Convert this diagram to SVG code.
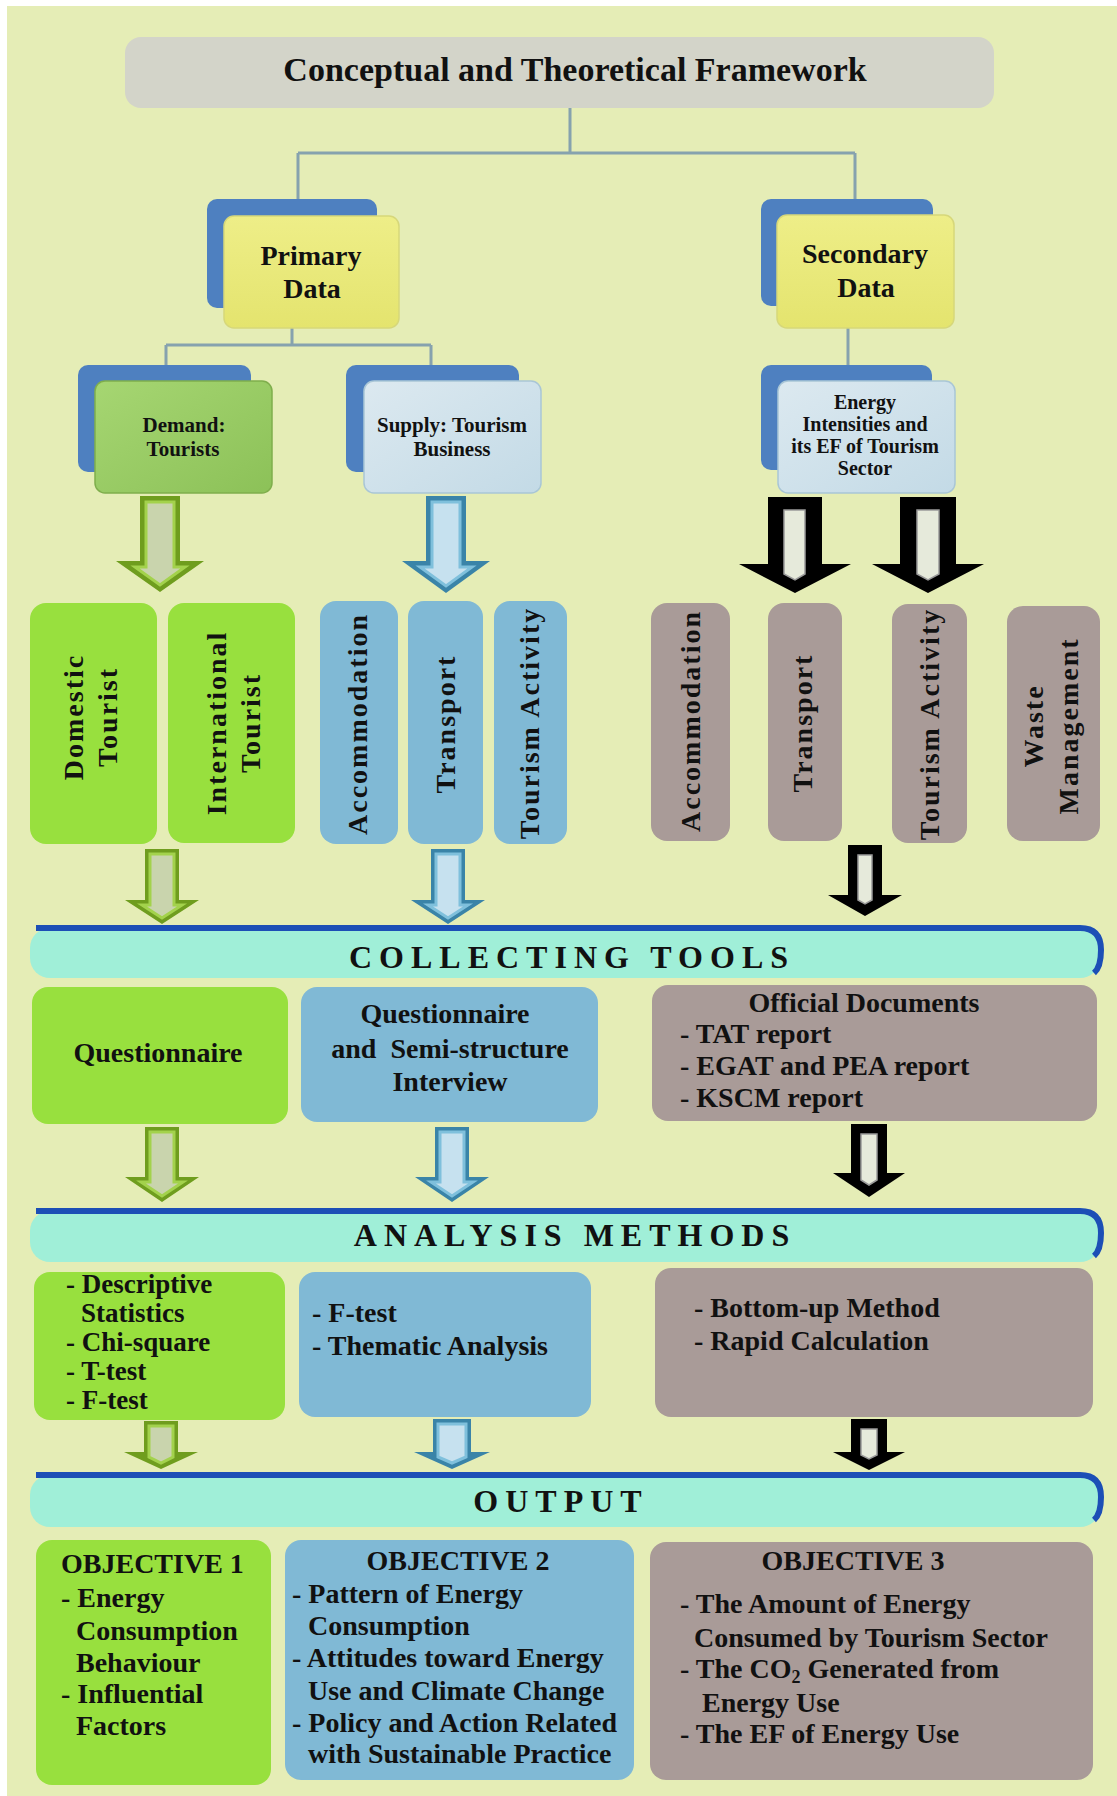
<svg xmlns="http://www.w3.org/2000/svg" width="1117" height="1796" viewBox="0 0 1117 1796">
  <defs>
    <linearGradient id="gYellow" x1="0" y1="0" x2="0" y2="1">
      <stop offset="0" stop-color="#eeee88"/>
      <stop offset="1" stop-color="#e4e46e"/>
    </linearGradient>
    <linearGradient id="gDemand" x1="0" y1="0" x2="1" y2="1">
      <stop offset="0" stop-color="#a6d672"/>
      <stop offset="1" stop-color="#8cc158"/>
    </linearGradient>
    <linearGradient id="gPale" x1="0" y1="0" x2="1" y2="1">
      <stop offset="0" stop-color="#dce9f0"/>
      <stop offset="1" stop-color="#c3dae6"/>
    </linearGradient>
    <style>
      .t { font-family: "Liberation Serif", "Times New Roman", serif; font-weight: bold; fill: #111; }
      .title { font-size: 34px; }
      .big { font-size: 28px; }
      .mid { font-size: 21px; }
      .small { font-size: 20px; }
      .body { font-size: 28px; }
      .body27 { font-size: 27px; }
      .vert { font-size: 28px; letter-spacing: 2px; }
      .band { font-size: 32px; letter-spacing: 7px; }
      .c { text-anchor: middle; }
      .back { fill: #4e80c0; }
      .green { fill: #98e03e; }
      .blue { fill: #80b9d5; }
      .mauve { fill: #a99b98; }
      .bandfill { fill: #a0efd8; }
      .bandline { fill: none; stroke: #1c4fb6; stroke-width: 6; }
      .link { fill: none; stroke: #86a2ae; stroke-width: 3; }
      .aGreenOut { fill: #6f9d1e; }
      .aGreenIn { fill: #c9d4ad; stroke: #a3d24c; stroke-width: 3; }
      .aBlueOut { fill: #3a84a8; }
      .aBlueIn { fill: #c6e1ef; stroke: #7fc0dc; stroke-width: 3; }
      .aBlackOut { fill: #000; }
      .aBlackIn { fill: #e6eadb; stroke: #9a9a9a; stroke-width: 1.5; }
    </style>
  </defs>

  <!-- page -->
  <rect x="0" y="0" width="1117" height="1796" fill="#ffffff"/>
  <rect x="7" y="6" width="1110" height="1790" fill="#e5edb6"/>

  <!-- connectors -->
  <g id="connectors">
    <path class="link" d="M570,108 V153 M298,153 H855 M298,153 V199 M855,153 V199"/>
    <path class="link" d="M292,328 V345 M166,345 H431 M166,345 V365 M431,345 V365"/>
    <path class="link" d="M848,328 V365"/>

    <!-- block arrows: demand / supply / secondary to categories -->
    <polygon class="aGreenOut" points="140,496 180,496 180,561 204,561 160,592 116,561 140,561"/>
    <polygon class="aGreenIn" points="146,502 174,502 174,567 185,567 160,585 135,567 146,567"/>
    <polygon class="aBlueOut" points="426,496 466,496 466,561 490,561 446,593 402,561 426,561"/>
    <polygon class="aBlueIn" points="432,502 460,502 460,567 472,567 446,586 420,567 432,567"/>
    <polygon class="aBlackOut" points="768,497 822,497 822,564 851,564 795,593 739,564 768,564"/>
    <polygon class="aBlackIn" points="784,510 805,510 805,574 795,580 784,574"/>
    <polygon class="aBlackOut" points="900,497 956,497 956,564 984,564 928,593 872,564 900,564"/>
    <polygon class="aBlackIn" points="917,510 939,510 939,574 928,580 917,574"/>

    <!-- categories to collecting tools -->
    <polygon class="aGreenOut" points="145,849 179,849 179,900 199,900 162,924 125,900 145,900"/>
    <polygon class="aGreenIn" points="150,854 174,854 174,905 182,905 162,918 142,905 150,905"/>
    <polygon class="aBlueOut" points="431,849 465,849 465,900 485,900 448,924 411,900 431,900"/>
    <polygon class="aBlueIn" points="436,854 460,854 460,905 468,905 448,918 428,905 436,905"/>
    <polygon class="aBlackOut" points="848,845 882,845 882,895 902,895 865,916 828,895 848,895"/>
    <polygon class="aBlackIn" points="858,855 872,855 872,900 865,904 858,900"/>

    <!-- collecting tools to analysis methods -->
    <polygon class="aGreenOut" points="145,1127 179,1127 179,1177 199,1177 162,1202 125,1177 145,1177"/>
    <polygon class="aGreenIn" points="150,1132 174,1132 174,1182 183,1182 162,1196 141,1182 150,1182"/>
    <polygon class="aBlueOut" points="435,1127 469,1127 469,1177 489,1177 452,1202 415,1177 435,1177"/>
    <polygon class="aBlueIn" points="440,1132 464,1132 464,1182 473,1182 452,1196 431,1182 440,1182"/>
    <polygon class="aBlackOut" points="851,1124 887,1124 887,1173 905,1173 869,1197 833,1173 851,1173"/>
    <polygon class="aBlackIn" points="861,1134 877,1134 877,1180 869,1185 861,1180"/>

    <!-- analysis methods to output -->
    <polygon class="aGreenOut" points="144,1421 178,1421 178,1452 198,1452 161,1469 124,1452 144,1452"/>
    <polygon class="aGreenIn" points="149,1426 173,1426 173,1457 161,1463 149,1457"/>
    <polygon class="aBlueOut" points="433,1419 471,1419 471,1452 490,1452 452,1469 414,1452 433,1452"/>
    <polygon class="aBlueIn" points="438,1424 466,1424 466,1457 452,1463 438,1457"/>
    <polygon class="aBlackOut" points="851,1419 887,1419 887,1452 905,1452 869,1470 833,1452 851,1452"/>
    <polygon class="aBlackIn" points="861,1429 877,1429 877,1455 869,1459 861,1455"/>
  </g>

  <!-- title -->
  <g id="title">
    <rect x="125" y="37" width="869" height="71" rx="16" fill="#d3d4c9"/>
    <text class="t title c" x="575" y="81">Conceptual and Theoretical Framework</text>
  </g>

  <!-- data sources -->
  <g id="primary-data">
    <rect class="back" x="207" y="199" width="170" height="109" rx="10"/>
    <rect x="224" y="216" width="175" height="112" rx="10" fill="url(#gYellow)" stroke="#d6d77a" stroke-width="1.5"/>
    <text class="t big c" x="311" y="265">Primary</text>
    <text class="t big c" x="312" y="298">Data</text>
  </g>
  <g id="secondary-data">
    <rect class="back" x="761" y="199" width="172" height="107" rx="10"/>
    <rect x="777" y="215" width="177" height="113" rx="10" fill="url(#gYellow)" stroke="#d6d77a" stroke-width="1.5"/>
    <text class="t big c" x="865" y="263">Secondary</text>
    <text class="t big c" x="866" y="297">Data</text>
  </g>
  <g id="demand">
    <rect class="back" x="78" y="365" width="173" height="107" rx="10"/>
    <rect x="95" y="381" width="177" height="112" rx="10" fill="url(#gDemand)" stroke="#7fae4c" stroke-width="1.5"/>
    <text class="t mid c" x="184" y="432" fill="#1c2a12">Demand:</text>
    <text class="t mid c" x="183" y="456" fill="#1c2a12">Tourists</text>
  </g>
  <g id="supply">
    <rect class="back" x="346" y="365" width="173" height="107" rx="10"/>
    <rect x="364" y="381" width="177" height="112" rx="10" fill="url(#gPale)" stroke="#a9c6d6" stroke-width="1.5"/>
    <text class="t mid c" x="452" y="432">Supply: Tourism</text>
    <text class="t mid c" x="452" y="456">Business</text>
  </g>
  <g id="energy-intensities">
    <rect class="back" x="761" y="365" width="171" height="105" rx="10"/>
    <rect x="778" y="381" width="177" height="112" rx="10" fill="url(#gPale)" stroke="#a9c6d6" stroke-width="1.5"/>
    <text class="t small c" x="865" y="409">Energy</text>
    <text class="t small c" x="865" y="431">Intensities and</text>
    <text class="t small c" x="865" y="453">its EF of Tourism</text>
    <text class="t small c" x="865" y="475">Sector</text>
  </g>

  <!-- demand categories -->
  <g id="domestic-tourist">
    <rect class="green" x="30" y="603" width="127" height="241" rx="16"/>
    <text class="t vert c" transform="translate(73,717) rotate(-90)" y="10">Domestic</text>
    <text class="t vert c" transform="translate(107,717) rotate(-90)" y="10">Tourist</text>
  </g>
  <g id="international-tourist">
    <rect class="green" x="168" y="603" width="127" height="240" rx="16"/>
    <text class="t vert c" transform="translate(216,723) rotate(-90)" y="10">International</text>
    <text class="t vert c" transform="translate(250,723) rotate(-90)" y="10">Tourist</text>
  </g>

  <!-- supply categories -->
  <g id="supply-accommodation">
    <rect class="blue" x="320" y="601" width="78" height="243" rx="16"/>
    <text class="t vert c" transform="translate(357,724) rotate(-90)" y="10">Accommodation</text>
  </g>
  <g id="supply-transport">
    <rect class="blue" x="408" y="601" width="75" height="243" rx="16"/>
    <text class="t vert c" transform="translate(445,724) rotate(-90)" y="10">Transport</text>
  </g>
  <g id="supply-tourism-activity">
    <rect class="blue" x="494" y="601" width="73" height="243" rx="16"/>
    <text class="t vert c" transform="translate(529,723) rotate(-90)" y="10">Tourism Activity</text>
  </g>

  <!-- secondary categories -->
  <g id="sector-accommodation">
    <rect class="mauve" x="651" y="603" width="79" height="238" rx="16"/>
    <text class="t vert c" transform="translate(690,721) rotate(-90)" y="10">Accommodation</text>
  </g>
  <g id="sector-transport">
    <rect class="mauve" x="768" y="603" width="74" height="238" rx="16"/>
    <text class="t vert c" transform="translate(802,723) rotate(-90)" y="10">Transport</text>
  </g>
  <g id="sector-tourism-activity">
    <rect class="mauve" x="892" y="604" width="75" height="239" rx="16"/>
    <text class="t vert c" transform="translate(929,724) rotate(-90)" y="10">Tourism Activity</text>
  </g>
  <g id="sector-waste">
    <rect class="mauve" x="1007" y="606" width="93" height="235" rx="16"/>
    <text class="t vert c" transform="translate(1033,726) rotate(-90)" y="10">Waste</text>
    <text class="t vert c" transform="translate(1068,726) rotate(-90)" y="10">Management</text>
  </g>

  <!-- collecting tools -->
  <g id="collecting-tools">
    <rect class="bandfill" x="30" y="928" width="1070" height="50" rx="20"/>
    <path class="bandline" d="M36,928 H1080 Q1101,928 1101,950 Q1101,967 1094,973"/>
    <text class="t band c" x="572" y="968">COLLECTING TOOLS</text>
  </g>
  <g id="collect-questionnaire">
    <rect class="green" x="32" y="987" width="256" height="137" rx="16"/>
    <text class="t body c" x="158" y="1062">Questionnaire</text>
  </g>
  <g id="collect-interview">
    <rect class="blue" x="301" y="987" width="297" height="135" rx="16"/>
    <text class="t body c" x="445" y="1023">Questionnaire</text>
    <text class="t body c" x="450" y="1058">and &#160;Semi-structure</text>
    <text class="t body c" x="450" y="1091">Interview</text>
  </g>
  <g id="collect-documents">
    <rect class="mauve" x="652" y="985" width="445" height="136" rx="16"/>
    <text class="t body c" x="864" y="1012">Official Documents</text>
    <text class="t body" x="680" y="1043">- TAT report</text>
    <text class="t body" x="680" y="1075">- EGAT and PEA report</text>
    <text class="t body" x="680" y="1107">- KSCM report</text>
  </g>

  <!-- analysis methods -->
  <g id="analysis-methods">
    <rect class="bandfill" x="30" y="1211" width="1070" height="51" rx="20"/>
    <path class="bandline" d="M36,1211 H1080 Q1101,1211 1101,1233 Q1101,1250 1094,1256"/>
    <text class="t band c" x="575" y="1246">ANALYSIS METHODS</text>
  </g>
  <g id="analysis-statistics">
    <rect class="green" x="34" y="1272" width="251" height="148" rx="16"/>
    <text class="t body27" x="66" y="1293">- Descriptive</text>
    <text class="t body27" x="81" y="1322">Statistics</text>
    <text class="t body27" x="66" y="1351">- Chi-square</text>
    <text class="t body27" x="66" y="1380">- T-test</text>
    <text class="t body27" x="66" y="1409">- F-test</text>
  </g>
  <g id="analysis-thematic">
    <rect class="blue" x="299" y="1272" width="292" height="145" rx="16"/>
    <text class="t body" x="312" y="1322">- F-test</text>
    <text class="t body" x="312" y="1355">- Thematic Analysis</text>
  </g>
  <g id="analysis-calculation">
    <rect class="mauve" x="655" y="1268" width="438" height="149" rx="16"/>
    <text class="t body" x="694" y="1317">- Bottom-up Method</text>
    <text class="t body" x="694" y="1350">- Rapid Calculation</text>
  </g>

  <!-- output -->
  <g id="output">
    <rect class="bandfill" x="30" y="1475" width="1070" height="52" rx="20"/>
    <path class="bandline" d="M36,1475 H1080 Q1101,1475 1101,1497 Q1101,1514 1094,1520"/>
    <text class="t band c" x="561" y="1512">OUTPUT</text>
  </g>
  <g id="objective-1">
    <rect class="green" x="36" y="1540" width="235" height="245" rx="16"/>
    <text class="t body" x="61" y="1573">OBJECTIVE 1</text>
    <text class="t body" x="61" y="1607">- Energy</text>
    <text class="t body" x="76" y="1640">Consumption</text>
    <text class="t body" x="76" y="1672">Behaviour</text>
    <text class="t body" x="61" y="1703">- Influential</text>
    <text class="t body" x="76" y="1735">Factors</text>
  </g>
  <g id="objective-2">
    <rect class="blue" x="285" y="1540" width="349" height="240" rx="16"/>
    <text class="t body c" x="458" y="1570">OBJECTIVE 2</text>
    <text class="t body" x="292" y="1603">- Pattern of Energy</text>
    <text class="t body" x="308" y="1635">Consumption</text>
    <text class="t body" x="292" y="1667">- Attitudes toward Energy</text>
    <text class="t body" x="308" y="1700">Use and Climate Change</text>
    <text class="t body" x="292" y="1732">- Policy and Action Related</text>
    <text class="t body" x="308" y="1763">with Sustainable Practice</text>
  </g>
  <g id="objective-3">
    <rect class="mauve" x="650" y="1542" width="443" height="238" rx="16"/>
    <text class="t body c" x="853" y="1570">OBJECTIVE 3</text>
    <text class="t body" x="680" y="1613">- The Amount of Energy</text>
    <text class="t body" x="694" y="1647">Consumed by Tourism Sector</text>
    <text class="t body" x="680" y="1678">- The CO<tspan font-size="18" dy="5">2</tspan><tspan dy="-5"> Generated from</tspan></text>
    <text class="t body" x="702" y="1712">Energy Use</text>
    <text class="t body" x="680" y="1743">- The EF of Energy Use</text>
  </g>
</svg>
